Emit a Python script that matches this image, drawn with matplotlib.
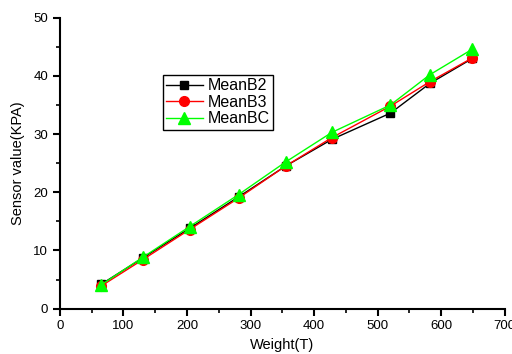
import matplotlib
matplotlib.use("Agg")
import matplotlib.pyplot as plt
from matplotlib.ticker import MultipleLocator

weight = [65, 130, 204, 281, 355, 428, 520, 582, 649]
mean_b2 = [4.2, 8.7, 13.8, 19.2, 24.5, 29.1, 33.6, 38.7, 43.0]
mean_b3 = [3.9, 8.4, 13.6, 19.0, 24.5, 29.4, 34.8, 39.0, 43.1]
mean_bc = [4.1, 8.8, 14.1, 19.6, 25.2, 30.3, 35.0, 40.2, 44.6]

plt.rcParams['font.family'] = ['Liberation Sans', 'DejaVu Sans']
fig = plt.figure(figsize=(5.12, 3.54), dpi=100)
ax = fig.add_axes([0.117, 0.128, 0.869, 0.822])

ax.plot(weight, mean_b2, color='black', marker='s', ms=6, lw=1, label='MeanB2')
ax.plot(weight, mean_b3, color='red', marker='o', ms=7, lw=1, label='MeanB3')
ax.plot(weight, mean_bc, color='#00ff00', marker='^', ms=8, lw=1, label='MeanBC')

ax.set_xlim(0, 700)
ax.set_ylim(0, 50)
ax.xaxis.set_major_locator(MultipleLocator(100))
ax.xaxis.set_minor_locator(MultipleLocator(50))
ax.yaxis.set_major_locator(MultipleLocator(10))
ax.yaxis.set_minor_locator(MultipleLocator(5))
for s in ['top', 'right']:
    ax.spines[s].set_visible(False)
for s in ['left', 'bottom']:
    ax.spines[s].set_linewidth(1.5)
ax.tick_params(which='major', direction='out', length=5, width=1.5, labelsize=9.5)
ax.tick_params(which='minor', direction='out', length=3, width=1.2)
ax.set_xlabel('Weight(T)', fontsize=10.5, labelpad=4)
ax.set_ylabel('Sensor value(KPA)', fontsize=10.5, labelpad=6)

leg = ax.legend(loc='upper left', bbox_to_anchor=(0.231, 0.803), fontsize=11.5,
                frameon=True, fancybox=False, edgecolor='black', framealpha=1,
                borderpad=0.2, handlelength=2.3, handletextpad=0.3, labelspacing=0.1,
                borderaxespad=0)
leg.get_frame().set_linewidth(1)

fig.savefig('out.png', dpi=100)
